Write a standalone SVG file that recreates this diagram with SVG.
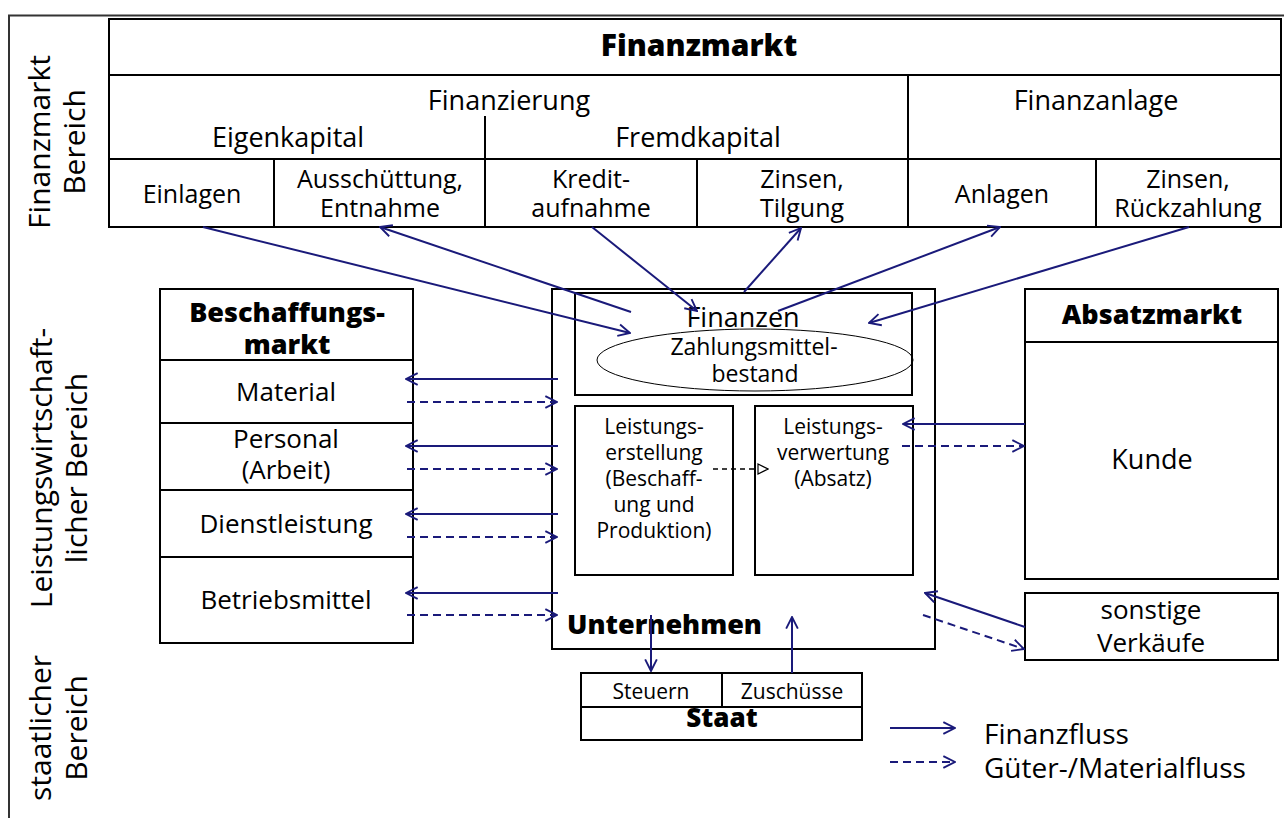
<svg xmlns="http://www.w3.org/2000/svg" width="1284" height="818" viewBox="0 0 1284 818">
  <style>
    .box { fill: #fff; stroke: #000; stroke-width: 2; }
    .ln { fill: none; stroke: #000; stroke-width: 2; }
    .t { font-family: 'Open Sans', 'Noto Sans', 'Liberation Sans', sans-serif; fill: #000; text-anchor: middle; }
    .b { font-weight: 800; }
    .fin { fill: none; stroke: #1a1a7a; stroke-width: 2; marker-end: url(#ah); }
    .gut { fill: none; stroke: #1a1a7a; stroke-width: 2; stroke-dasharray: 8 5; marker-end: url(#ah); }
  </style>
  <defs>
    <marker id="ah" viewBox="0 0 12 12" refX="11" refY="6" markerWidth="14" markerHeight="14" markerUnits="userSpaceOnUse" orient="auto">
      <path d="M1,1 L11,6 L1,11" fill="none" stroke="#1a1a7a" stroke-width="1.6"/>
    </marker>
    <marker id="tri" viewBox="0 0 12 12" refX="11" refY="6" markerWidth="12" markerHeight="12" markerUnits="userSpaceOnUse" orient="auto">
      <path d="M1,1 L11,6 L1,11 Z" fill="#fff" stroke="#000" stroke-width="1.2"/>
    </marker>
  </defs>

  <rect width="1284" height="818" fill="#fff"/>

  <!-- outer frame -->
  <path d="M9,818 V15.5 H1284" fill="none" stroke="#333" stroke-width="2"/>

  <!-- area labels -->
  <g id="labels" class="t" font-size="30">
    <text transform="translate(50,142) rotate(-90)">Finanzmarkt</text>
    <text transform="translate(85,142) rotate(-90)">Bereich</text>
    <text transform="translate(52,468) rotate(-90)">Leistungswirtschaft-</text>
    <text transform="translate(87,468) rotate(-90)">licher Bereich</text>
    <text transform="translate(51,728) rotate(-90)">staatlicher</text>
    <text transform="translate(87,728) rotate(-90)">Bereich</text>
  </g>

  <!-- financial market table -->
  <g id="finanzmarkt">
    <rect class="box" x="109" y="19" width="1172" height="208"/>
    <path class="ln" d="M109,75 H1281 M109,159 H1281 M908,75 V227 M485,116 V227 M274,159 V227 M697,159 V227 M1096,159 V227"/>
    <text class="t b" x="699" y="56" font-size="30">Finanzmarkt</text>
    <text class="t" x="509" y="110" font-size="27">Finanzierung</text>
    <text class="t" x="1096" y="110" font-size="27">Finanzanlage</text>
    <text class="t" x="288" y="147" font-size="27">Eigenkapital</text>
    <text class="t" x="698" y="147" font-size="27">Fremdkapital</text>
    <g class="t" font-size="25">
      <text x="192" y="203">Einlagen</text>
      <text x="380" y="188">Ausschüttung,</text>
      <text x="380" y="217">Entnahme</text>
      <text x="591" y="188">Kredit-</text>
      <text x="591" y="217">aufnahme</text>
      <text x="802" y="188">Zinsen,</text>
      <text x="802" y="217">Tilgung</text>
      <text x="1002" y="203">Anlagen</text>
      <text x="1188" y="188">Zinsen,</text>
      <text x="1188" y="217">Rückzahlung</text>
    </g>
  </g>

  <!-- procurement market -->
  <g id="beschaffungsmarkt">
    <rect class="box" x="160" y="289" width="253" height="354"/>
    <path class="ln" d="M160,360 H413 M160,423 H413 M160,490 H413 M160,557 H413"/>
    <text class="t b" x="287" y="322" font-size="27">Beschaffungs-</text>
    <text class="t b" x="287" y="354" font-size="27">markt</text>
    <g class="t" font-size="26">
      <text x="286" y="401">Material</text>
      <text x="286" y="448">Personal</text>
      <text x="286" y="479">(Arbeit)</text>
      <text x="286" y="533">Dienstleistung</text>
      <text x="286" y="609">Betriebsmittel</text>
    </g>
  </g>

  <!-- company -->
  <g id="unternehmen">
    <rect class="box" x="552" y="289" width="383" height="360"/>
    <text class="t b" x="567" y="634" font-size="27" style="text-anchor:start">Unternehmen</text>
  </g>

  <g id="finanzen">
    <rect class="box" x="575" y="293" width="337" height="102"/>
    <text class="t" x="743" y="327" font-size="27">Finanzen</text>
    <ellipse cx="755" cy="360" rx="158" ry="31" fill="none" stroke="#000" stroke-width="1"/>
    <text class="t" x="754" y="355" font-size="23">Zahlungsmittel-</text>
    <text class="t" x="755" y="382" font-size="23">bestand</text>
  </g>

  <g id="leistungserstellung">
    <rect class="box" x="575" y="406" width="158" height="169"/>
    <g class="t" font-size="21">
      <text x="654" y="434">Leistungs-</text>
      <text x="654" y="460">erstellung</text>
      <text x="654" y="486">(Beschaff-</text>
      <text x="654" y="512">ung und</text>
      <text x="654" y="538">Produktion)</text>
    </g>
  </g>

  <g id="leistungsverwertung">
    <rect class="box" x="755" y="406" width="158" height="169"/>
    <g class="t" font-size="21">
      <text x="833" y="434">Leistungs-</text>
      <text x="833" y="460">verwertung</text>
      <text x="833" y="486">(Absatz)</text>
    </g>
  </g>

  <!-- sales market -->
  <g id="absatzmarkt">
    <rect class="box" x="1025" y="289" width="253" height="290"/>
    <path class="ln" d="M1025,342 H1278"/>
    <text class="t b" x="1152" y="324" font-size="27">Absatzmarkt</text>
    <text class="t" x="1152" y="469" font-size="27">Kunde</text>
  </g>

  <g id="sonstige-verkaeufe">
    <rect class="box" x="1025" y="593" width="253" height="67"/>
    <text class="t" x="1151" y="619" font-size="26">sonstige</text>
    <text class="t" x="1151" y="652" font-size="26">Verkäufe</text>
  </g>

  <!-- state -->
  <g id="staat">
    <rect class="box" x="581" y="673" width="281" height="67"/>
    <path class="ln" d="M581,707 H862 M722,673 V707"/>
    <text class="t" x="651" y="699" font-size="21">Steuern</text>
    <text class="t" x="792" y="699" font-size="21">Zuschüsse</text>
    <text class="t b" x="722" y="727" font-size="26">Staat</text>
  </g>

  <!-- flows -->
  <g id="connectors">
    <!-- finance market -->
    <path class="fin" d="M203,227 L630,333"/>
    <path class="fin" d="M631,312 L380,227"/>
    <path class="fin" d="M592,227 L697,311"/>
    <path class="fin" d="M744,292 L801,228"/>
    <path class="fin" d="M778,311 L1000,227"/>
    <path class="fin" d="M1189,227 L869,323"/>
    <!-- procurement market -->
    <path class="fin" d="M558,379 L406,379"/>
    <path class="gut" d="M407,402 L557,402"/>
    <path class="fin" d="M558,446 L406,446"/>
    <path class="gut" d="M407,469 L557,469"/>
    <path class="fin" d="M558,514 L406,514"/>
    <path class="gut" d="M407,537 L557,537"/>
    <path class="fin" d="M558,593 L406,593"/>
    <path class="gut" d="M407,615 L557,615"/>
    <!-- internal goods flow -->
    <path d="M713,469 L768,469" fill="none" stroke="#000" stroke-width="1.5" stroke-dasharray="5 4" marker-end="url(#tri)"/>
    <!-- sales market -->
    <path class="fin" d="M1025,424 L903,424"/>
    <path class="gut" d="M902,446 L1024,446"/>
    <path class="fin" d="M1025,627 L925,593"/>
    <path class="gut" d="M923,615 L1024,649"/>
    <!-- state -->
    <path class="fin" d="M651,615 L651,671"/>
    <path class="fin" d="M792,673 L792,617"/>
  </g>

  <!-- legend -->
  <g id="legend">
    <path class="fin" d="M890,728 L955,728"/>
    <path class="gut" d="M890,762 L955,762"/>
    <text class="t" x="984" y="744" font-size="28" style="text-anchor:start">Finanzfluss</text>
    <text class="t" x="984" y="778" font-size="28" style="text-anchor:start">Güter-/Materialfluss</text>
  </g>
</svg>
